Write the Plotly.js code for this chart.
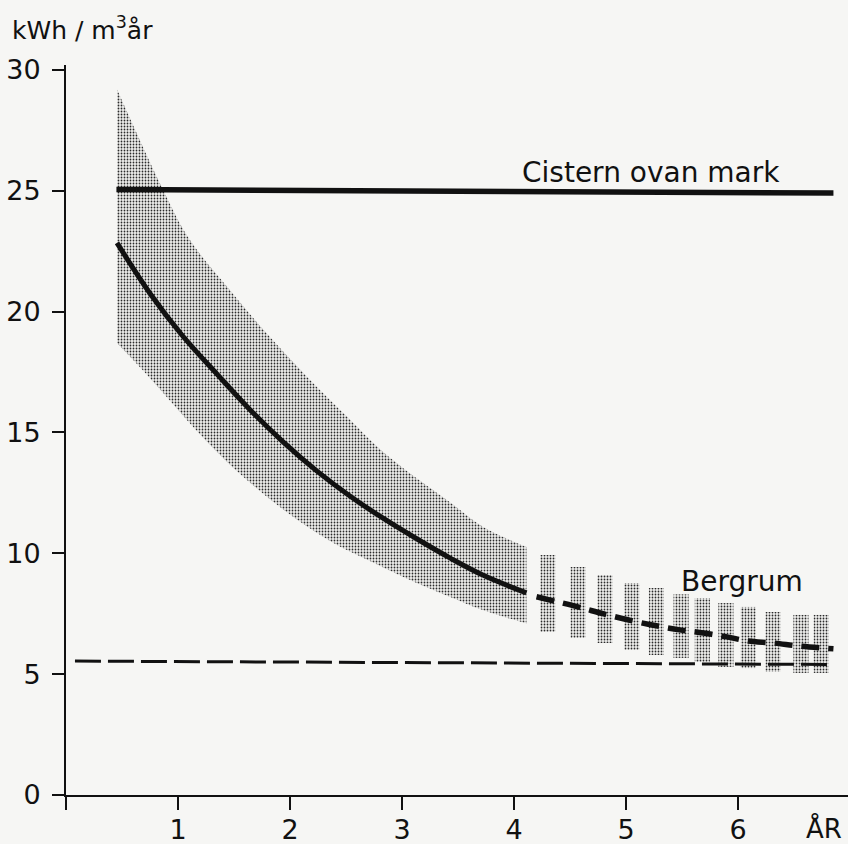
<!DOCTYPE html>
<html>
<head>
<meta charset="utf-8">
<script src="https://cdn.plot.ly/plotly-3.0.1.min.js"></script>
<style>html,body{margin:0;padding:0;background:#f6f6f4;}#chart{width:848px;height:844px;}</style>
</head>
<body>
<div id="chart"></div>
<script>
// Cistern ovan mark (horizontal level)
const cisternX = [0.45, 6.85];
const cisternY = [25.05, 24.9];

// Main curve (solid part)
const curveX = [0.455, 0.75, 1.04, 1.35, 1.64, 1.94, 2.24, 2.54, 2.83, 3.13, 3.43, 3.72, 4.11];
const curveY = [22.84, 20.75, 19.0, 17.4, 15.95, 14.6, 13.4, 12.35, 11.45, 10.6, 9.8, 9.1, 8.36];

// Main curve (dashed extrapolation)
const extX = [4.2, 4.57, 4.8, 5.06, 5.28, 5.48, 5.69, 5.9, 6.09, 6.31, 6.55, 6.85];
const extY = [8.2, 7.78, 7.49, 7.2, 6.99, 6.83, 6.7, 6.54, 6.37, 6.29, 6.16, 6.05];

// Uncertainty band (continuous part)
const bandUpperX = [0.455, 0.87, 1.1, 1.46, 1.79, 2.15, 2.54, 2.78, 3.13, 3.43, 3.72, 4.11];
const bandUpperY = [29.2, 25.0, 23.0, 20.9, 19.1, 17.3, 15.5, 14.4, 13.1, 12.1, 11.1, 10.26];
const bandLowerX = [0.455, 0.7, 0.95, 1.2, 1.49, 1.79, 2.09, 2.38, 2.68, 3.13, 3.43, 3.72, 4.11];
const bandLowerY = [18.7, 17.5, 16.2, 14.9, 13.55, 12.35, 11.3, 10.45, 9.75, 8.77, 8.19, 7.65, 7.1];

// Uncertainty band (striped part)
const stripX = [4.30, 4.57, 4.81, 5.05, 5.27, 5.49, 5.68, 5.89, 6.09, 6.31, 6.56, 6.74];
const stripTop = [9.93, 9.43, 9.1, 8.77, 8.56, 8.3, 8.15, 7.94, 7.78, 7.57, 7.45, 7.45];
const stripBottom = [6.74, 6.5, 6.29, 6.0, 5.79, 5.67, 5.5, 5.3, 5.25, 5.1, 5.05, 5.05];

// Bergrum level (dashed)
const bergX = [0.08, 6.82];
const bergY = [5.54, 5.4];

const xTicks = [0, 1, 2, 3, 4, 5, 6];
const xTickText = ['', '1', '2', '3', '4', '5', '6'];
const yTicks = [0, 5, 10, 15, 20, 25, 30];

const labels = [
  {text: 'Cistern ovan mark', x: 5.22, y: 25.75},
  {text: 'Bergrum', x: 6.03, y: 8.85}
];

const pattern = {shape: '.', size: 3, solidity: 0.28, fgcolor: '#2a2a2a', bgcolor: '#efefed'};

const traces = [
  {x: bandLowerX, y: bandLowerY, type: 'scatter', mode: 'lines',
   line: {width: 0, color: 'rgba(0,0,0,0)', shape: 'spline'}, hoverinfo: 'skip'},
  {x: bandUpperX, y: bandUpperY, type: 'scatter', mode: 'lines', fill: 'tonexty',
   line: {width: 0, color: 'rgba(0,0,0,0)', shape: 'spline'}, fillcolor: '#b8b8b6', fillpattern: pattern, hoverinfo: 'skip'},
  {x: stripX, y: stripTop.map((t, i) => t - stripBottom[i]), base: stripBottom, type: 'bar', width: 0.135,
   marker: {color: '#b8b8b6', line: {width: 0}, pattern: pattern}},
  {x: cisternX, y: cisternY, type: 'scatter', mode: 'lines', line: {color: '#111', width: 5.5}},
  {x: curveX, y: curveY, type: 'scatter', mode: 'lines', line: {color: '#111', width: 5, shape: 'spline'}},
  {x: extX, y: extY, type: 'scatter', mode: 'lines', line: {color: '#111', width: 5.5, shape: 'spline', dash: '18px,9px'}},
  {x: bergX, y: bergY, type: 'scatter', mode: 'lines', line: {color: '#111', width: 3, dash: '26px,7px'}}
];

const font = 'DejaVu Sans, sans-serif';
const annotations = labels.map(l => ({
  text: l.text, x: l.x, y: l.y, xref: 'x', yref: 'y', showarrow: false,
  xanchor: 'center', yanchor: 'middle', font: {family: font, size: 28, color: '#111'}
}));
annotations.push({text: 'ÅR', x: 6.77, y: 0, xref: 'x', yref: 'y', showarrow: false,
  xanchor: 'center', yanchor: 'top', yshift: -16, font: {family: font, size: 26, color: '#111'}});
annotations.push({text: 'kWh / m<sup>3</sup>år', x: 0, y: 1, xref: 'paper', yref: 'paper', showarrow: false,
  xanchor: 'left', yanchor: 'middle', xshift: -56, yshift: 37, font: {family: font, size: 25, color: '#111'}});

const layout = {
  width: 848, height: 844,
  margin: {l: 66, r: 0, t: 65, b: 49},
  paper_bgcolor: '#f6f6f4', plot_bgcolor: '#f6f6f4',
  showlegend: false,
  barmode: 'overlay',
  xaxis: {range: [0, 6.98], tickvals: xTicks, ticktext: xTickText, ticks: 'outside', ticklen: 13, tickwidth: 2,
    tickcolor: '#111', showline: true, linecolor: '#111', linewidth: 2, showgrid: false, zeroline: false,
    ticklabelstandoff: -3, tickfont: {family: font, size: 27, color: '#111'}},
  yaxis: {range: [0, 30.2], tickvals: yTicks, ticks: 'outside', ticklen: 12, tickwidth: 2,
    tickcolor: '#111', showline: true, linecolor: '#111', linewidth: 2, showgrid: false, zeroline: false,
    ticklabelstandoff: 6, tickfont: {family: font, size: 27, color: '#111'}},
  annotations: annotations
};

Plotly.newPlot('chart', traces, layout, {displayModeBar: false, staticPlot: true});
</script>
</body>
</html>
